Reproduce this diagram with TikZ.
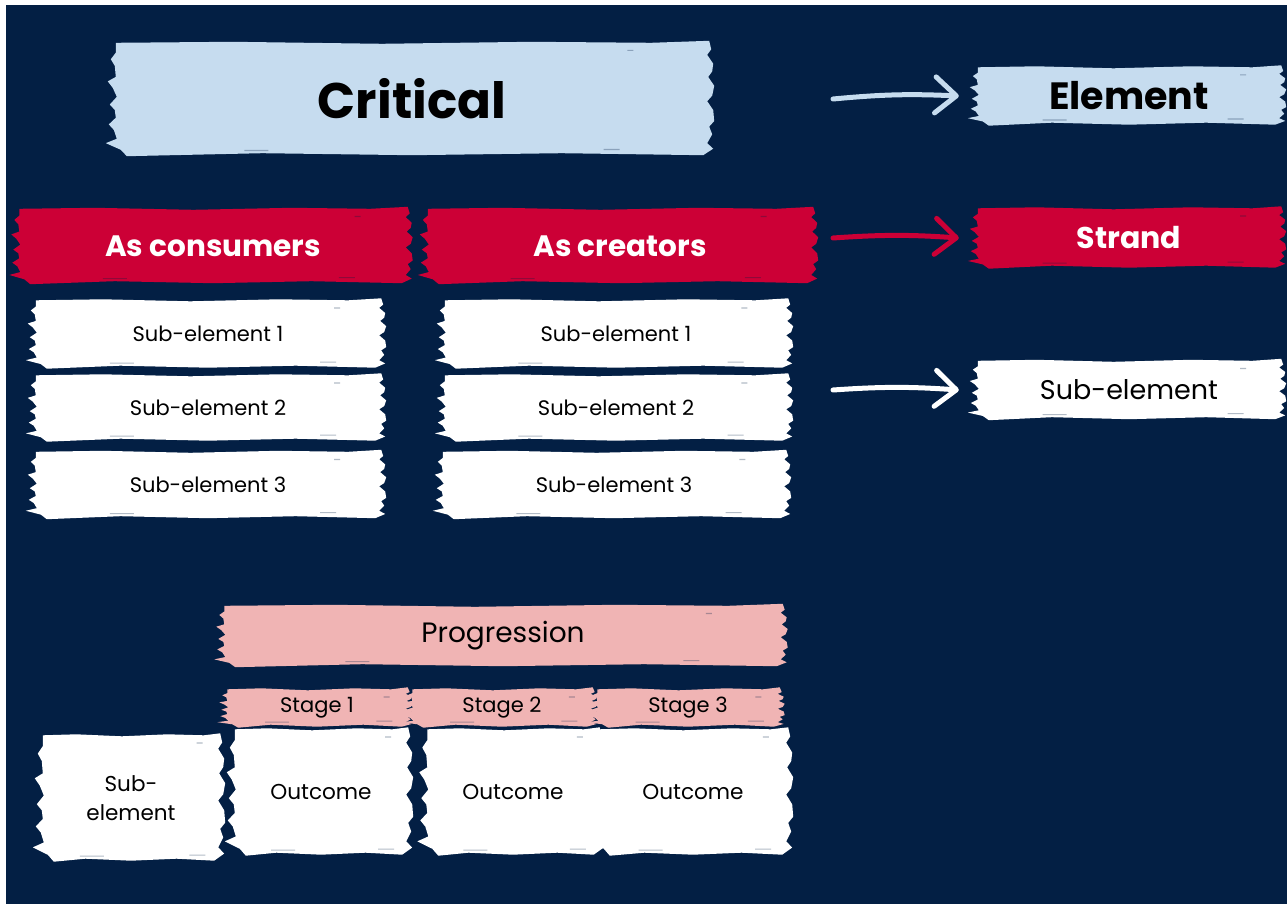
\documentclass[tikz,border=0pt]{standalone}
\usepackage{fontspec}
\setmainfont{Poppins}
\usetikzlibrary{calc,arrows.meta}
\pgfdeclarelayer{background}
\pgfdeclarelayer{canvas}
\pgfsetlayers{canvas,background,main}
\definecolor{navy}{HTML}{031F44}
\definecolor{lblue}{HTML}{C6DCEF}
\definecolor{cred}{HTML}{CC0036}
\definecolor{cpink}{HTML}{F0B4B4}
\tikzset{
  box/.style n args={2}{minimum width=#1pt, minimum height=#2pt, inner sep=0pt, align=center},
  legarrow/.style={line width=5pt, line cap=round, -{Straight Barb[length=21pt,width=36pt,round]}},
}
% brush-stroke background behind a named node
\newcommand\brush[2]{%
\begin{pgfonlayer}{background}
\fill[#2]
 ($(#1.north west)+(3,-1)$)
 -- ($(#1.north west)!0.2!(#1.north east)+(0,-2)$)
 -- ($(#1.north west)!0.45!(#1.north east)+(0,0)$)
 -- ($(#1.north west)!0.7!(#1.north east)+(0,-2)$)
 -- ($(#1.north west)!0.9!(#1.north east)+(0,-1)$)
 -- ($(#1.north east)+(-2,-3)$)
 -- ($(#1.north east)!0.05!(#1.south east)+(0,0)$)
 -- ($(#1.north east)!0.10!(#1.south east)+(-4,0)$)
 -- ($(#1.north east)!0.18!(#1.south east)+(2,0)$)
 -- ($(#1.north east)!0.25!(#1.south east)+(1,0)$)
 -- ($(#1.north east)!0.30!(#1.south east)+(-3,0)$)
 -- ($(#1.north east)!0.38!(#1.south east)+(3,0)$)
 -- ($(#1.north east)!0.47!(#1.south east)+(1,0)$)
 -- ($(#1.north east)!0.52!(#1.south east)+(-4,0)$)
 -- ($(#1.north east)!0.60!(#1.south east)+(2,0)$)
 -- ($(#1.north east)!0.70!(#1.south east)+(3,0)$)
 -- ($(#1.north east)!0.75!(#1.south east)+(-2,0)$)
 -- ($(#1.north east)!0.82!(#1.south east)+(1,0)$)
 -- ($(#1.north east)!0.90!(#1.south east)+(-4,0)$)
 -- ($(#1.north east)!0.95!(#1.south east)+(2,0)$)
 -- ($(#1.south east)+(-8,1)$)
 -- ($(#1.south west)!0.75!(#1.south east)+(0,-1)$)
 -- ($(#1.south west)!0.5!(#1.south east)+(0,1)$)
 -- ($(#1.south west)!0.25!(#1.south east)+(0,-1)$)
 -- ($(#1.south west)+(14,2)$)
 -- ($(#1.south west)!0.04!(#1.north west)+(8,0)$)
 -- ($(#1.south west)!0.10!(#1.north west)+(-7,0)$)
 -- ($(#1.south west)!0.14!(#1.north west)+(4,0)$)
 -- ($(#1.south west)!0.22!(#1.north west)+(1,0)$)
 -- ($(#1.south west)!0.27!(#1.north west)+(-4,0)$)
 -- ($(#1.south west)!0.33!(#1.north west)+(3,0)$)
 -- ($(#1.south west)!0.40!(#1.north west)+(2,0)$)
 -- ($(#1.south west)!0.45!(#1.north west)+(-3,0)$)
 -- ($(#1.south west)!0.52!(#1.north west)+(4,0)$)
 -- ($(#1.south west)!0.60!(#1.north west)+(0,0)$)
 -- ($(#1.south west)!0.66!(#1.north west)+(-5,0)$)
 -- ($(#1.south west)!0.70!(#1.north west)+(3,0)$)
 -- ($(#1.south west)!0.80!(#1.north west)+(2,0)$)
 -- ($(#1.south west)!0.86!(#1.north west)+(-2,0)$)
 -- ($(#1.south west)!0.92!(#1.north west)+(3,0)$)
 -- cycle;
\fill[navy,opacity=0.3]
 ($(#1.south west)!0.22!(#1.south east)+(0,-3)$) rectangle ++(24,-1.2)
 ($(#1.south west)!0.82!(#1.south east)+(0,-4)$) rectangle ++(16,-1.2)
 ($(#1.north west)!0.86!(#1.north east)+(0,6)$) rectangle ++(6,1.2);
\end{pgfonlayer}}
\begin{document}
\begin{tikzpicture}[x=1pt,y=-1pt]
\begin{pgfonlayer}{canvas}
\fill[white] (0,0) rectangle (1287,904);
\fill[navy] (6,5) rectangle (1287,904);
\end{pgfonlayer}
\useasboundingbox (0,0) rectangle (1287,904);

% element row
\node[box={598}{110}, font=\fontsize{50}{54}\selectfont\bfseries] (crit) at (412,99) {Critical};
\node[box={308}{55}, font=\fontsize{38}{40}\selectfont\bfseries] (elem) at (1129,96) {Element};
% strands
\node[box={393}{72}, text=white, font=\fontsize{29.5}{31}\selectfont\bfseries] (cons) at (213,246) {As consumers};
\node[box={390}{72}, text=white, font=\fontsize{29.5}{31}\selectfont\bfseries] (creat) at (620,246) {As creators};
\node[box={308}{57}, text=white, font=\fontsize{30}{32}\selectfont\bfseries] (strand) at (1129,238) {Strand};
% sub-elements
\begin{scope}[every node/.append style={font=\fontsize{21}{23}\selectfont}]
\node[box={350}{65}] (c1) at (208,334) {Sub-element 1};
\node[box={350}{63}] (c2) at (208,408) {Sub-element 2};
\node[box={350}{64}] (c3) at (208,485) {Sub-element 3};
\node[box={348}{65}] (r1) at (616,334) {Sub-element 1};
\node[box={348}{63}] (r2) at (616,408) {Sub-element 2};
\node[box={348}{64}] (r3) at (614,485) {Sub-element 3};
\end{scope}
\node[box={308}{56}, font=\fontsize{27}{29}\selectfont] (subleg) at (1129,390) {Sub-element};
% progression
\node[box={563}{58}, font=\fontsize{28}{30}\selectfont] (prog) at (503,636) {Progression};
\begin{scope}[every node/.append style={font=\fontsize{21}{23}\selectfont}]
\node[box={185}{35}] (s1) at (317,708) {Stage 1};
\node[box={185}{35}] (s2) at (502,708) {Stage 2};
\node[box={187}{35}] (s3) at (688,708) {Stage 3};
\node[box={182}{123}, font=\fontsize{21.5}{29}\selectfont] (sub) at (131,798) {Sub-\\element};
\node[box={178}{123}, font=\fontsize{21.6}{23}\selectfont] (o1) at (321,792) {Outcome};
\node[box={177}{123}, font=\fontsize{21.6}{23}\selectfont] (o2) at (513,792) {Outcome};
\node[box={194}{123}, font=\fontsize{21.6}{23}\selectfont] (o3) at (693,792) {Outcome};
\end{scope}

\brush{crit}{lblue}
\brush{elem}{lblue}
\brush{cons}{cred}
\brush{creat}{cred}
\brush{strand}{cred}
\brush{c1}{white}\brush{c2}{white}\brush{c3}{white}
\brush{r1}{white}\brush{r2}{white}\brush{r3}{white}
\brush{subleg}{white}
\brush{prog}{cpink}
\brush{s1}{cpink}\brush{s2}{cpink}\brush{s3}{cpink}
\brush{sub}{white}\brush{o1}{white}\brush{o2}{white}\brush{o3}{white}

% legend arrows
\coordinate (a1) at (833,99);
\coordinate (a2) at (833,238);
\coordinate (a3) at (833,390);
\draw[legarrow, lblue] (a1) to[bend left=4] ([xshift=-16pt]elem.west);
\draw[legarrow, cred] (a2) to[bend left=4] ([xshift=-16pt]strand.west);
\draw[legarrow, white] (a3) to[bend left=4] ([xshift=-16pt]subleg.west);
\end{tikzpicture}
\end{document}
